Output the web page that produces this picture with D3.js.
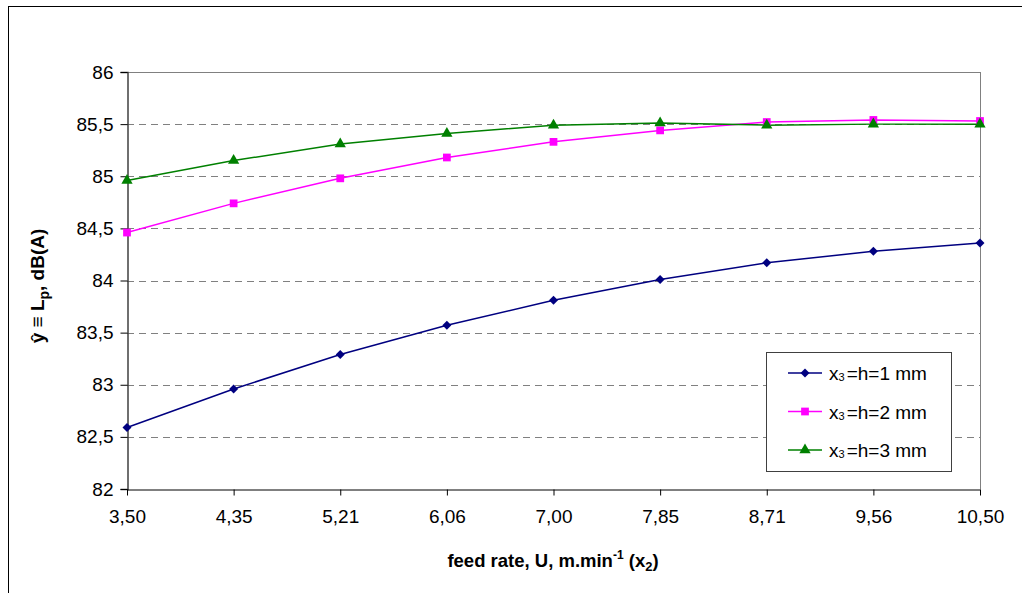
<!DOCTYPE html>
<meta charset="utf-8">
<html>
<script src="https://d3js.org/d3.v7.min.js"></script>
<style>
  body { margin: 0; background: #fff; }
  text { font-family: "Liberation Sans", Arial, sans-serif; }
</style>
<body>
<div id="chart"></div>
<script>

// data
var feedRates = ["3,50", "4,35", "5,21", "6,06", "7,00", "7,85", "8,71", "9,56", "10,50"];
var h1 = [82.59, 82.96, 83.29, 83.57, 83.81, 84.01, 84.17, 84.28, 84.36];
var h2 = [84.46, 84.74, 84.98, 85.18, 85.33, 85.44, 85.52, 85.54, 85.53];
var h3 = [84.96, 85.15, 85.31, 85.41, 85.49, 85.51, 85.49, 85.50, 85.50];
var yTicks = [82, 82.5, 83, 83.5, 84, 84.5, 85, 85.5, 86];
var seriesNames = ["=h=1 mm", "=h=2 mm", "=h=3 mm"];

var width = 1022,
    height = 593;

var svg = d3.select("#chart")
  .append("svg")
    .attr("width", width)
    .attr("height", height);

// outer chart frame
svg.append("rect")
  .attr("x", 8.5).attr("y", 6.5)
  .attr("width", width + 20).attr("height", height + 20)
  .attr("fill", "none").attr("stroke", "#000").attr("stroke-width", 1);

var pLeft = 127, pRight = 980, pTop = 72, pBottom = 489;

var x = d3.scalePoint()
  .domain(feedRates)
  .range([pLeft, pRight]);

var y = d3.scaleLinear()
  .domain([82, 86])
  .range([pBottom, pTop]);

// grid lines
svg.selectAll("line.grid")
  .data(yTicks.filter(function(d) { return d > 82; }))
  .enter().append("line")
    .attr("class", "grid")
    .attr("x1", pLeft).attr("x2", pRight)
    .attr("y1", function(d) { return Math.round(y(d)) + 0.5; })
    .attr("y2", function(d) { return Math.round(y(d)) + 0.5; })
    .attr("stroke", "#808080")
    .attr("stroke-dasharray", function(d) { return d === 86 ? null : "7,5"; });

// right border of plot area
svg.append("line")
  .attr("x1", pRight + 0.5).attr("x2", pRight + 0.5)
  .attr("y1", pTop).attr("y2", pBottom)
  .attr("stroke", "#808080");

// axes
var yAxis = svg.append("g")
  .attr("transform", "translate(" + (pLeft + 0.5) + ",0)")
  .call(d3.axisLeft(y).tickValues(yTicks).tickSize(7).tickPadding(7)
    .tickFormat(function(d) { return String(d).replace(".", ","); }));
yAxis.select(".domain").attr("stroke", "#404040").attr("stroke-width", 1.5);
yAxis.selectAll(".tick line").attr("stroke", "#000");
yAxis.selectAll("text").attr("font-size", 19).attr("fill", "#000")
  .attr("font-family", "Liberation Sans, Arial, sans-serif");

var xAxis = svg.append("g")
  .attr("transform", "translate(0," + (pBottom + 0.5) + ")")
  .call(d3.axisBottom(x).tickSize(6).tickSizeOuter(0).tickPadding(14));
xAxis.select(".domain").attr("stroke", "#000");
xAxis.selectAll(".tick line").attr("stroke", "#000");
xAxis.selectAll("text").attr("font-size", 19).attr("fill", "#000")
  .attr("font-family", "Liberation Sans, Arial, sans-serif");

// axis titles
var xt = svg.append("text")
  .attr("x", 553).attr("y", 567)
  .attr("text-anchor", "middle")
  .attr("font-size", 18.5).attr("font-weight", "bold");
xt.append("tspan").text("feed rate, U, m.min");
xt.append("tspan").attr("dy", -8).attr("font-size", 12).text("-1");
xt.append("tspan").attr("dy", 8).text(" (x");
xt.append("tspan").attr("dy", 4).attr("font-size", 13).text("2");
xt.append("tspan").attr("dy", -4).text(")");

var yt = svg.append("text")
  .attr("transform", "translate(44,286) rotate(-90)")
  .attr("text-anchor", "middle")
  .attr("font-size", 19).attr("font-weight", "bold");
yt.append("tspan").text("\u0177 \u2261 L");
yt.append("tspan").attr("dy", 5).attr("font-size", 14).text("p");
yt.append("tspan").attr("dy", -5).text(", dB(A)");

// series
var series = [
  { values: h1, color: "#000080", symbol: d3.symbolSquare, size: 40, rot: 45 },
  { values: h2, color: "#FF00FF", symbol: d3.symbolSquare, size: 60, rot: 0 },
  { values: h3, color: "#008000", symbol: d3.symbolTriangle, size: 55, rot: 0 }
];

var line = d3.line()
  .x(function(d, i) { return x(feedRates[i]); })
  .y(function(d) { return y(d); });

series.forEach(function(s) {
  svg.append("path")
    .datum(s.values)
    .attr("d", line)
    .attr("fill", "none")
    .attr("stroke", s.color)
    .attr("stroke-width", 1.5);
});

series.forEach(function(s) {
  svg.selectAll(null)
    .data(s.values)
    .enter().append("path")
      .attr("d", d3.symbol().type(s.symbol).size(s.size))
      .attr("transform", function(d, i) {
        return "translate(" + x(feedRates[i]) + "," + y(d) + ") rotate(" + s.rot + ")";
      })
      .attr("fill", s.color);
});

// legend
var lg = svg.append("g").attr("transform", "translate(766,352)");
lg.append("rect")
  .attr("x", 0.5).attr("y", 0.5)
  .attr("width", 185).attr("height", 119)
  .attr("fill", "#fff").attr("stroke", "#404040");

series.forEach(function(s, i) {
  var yy = 21 + i * 38.5;
  lg.append("line")
    .attr("x1", 22).attr("x2", 56)
    .attr("y1", yy).attr("y2", yy)
    .attr("stroke", s.color).attr("stroke-width", 1.5);
  lg.append("path")
    .attr("d", d3.symbol().type(s.symbol).size(s.size))
    .attr("transform", "translate(39," + yy + ") rotate(" + s.rot + ")")
    .attr("fill", s.color);
  var t = lg.append("text")
    .attr("x", 63).attr("y", yy + 7)
    .attr("font-size", 19);
  t.append("tspan").text("x");
  t.append("tspan").attr("font-size", 11).attr("dy", 1).text("3");
  t.append("tspan").attr("dy", -1).attr("dx", 2).text(seriesNames[i]);
});

</script>
</body>
</html>
